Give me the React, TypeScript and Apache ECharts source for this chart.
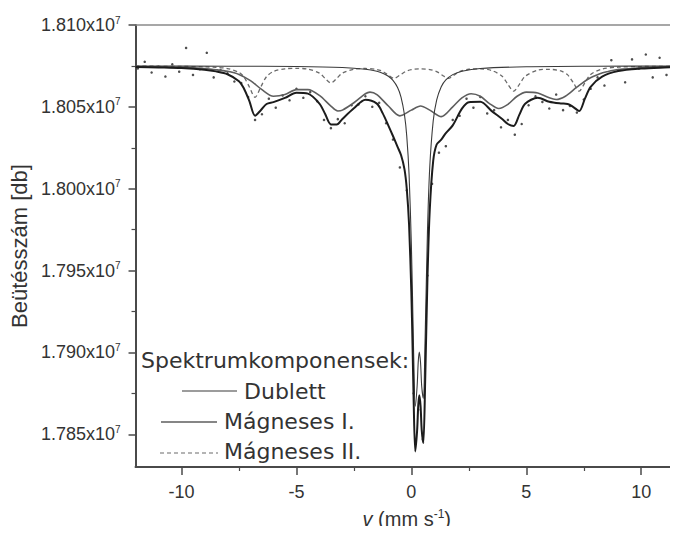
import React, { useEffect, useRef } from "react";
import * as echarts from "echarts";

// Baseline count level and axis ranges
const BASE = 18075000;
const Y_MIN = 17830000;
const Y_MAX = 18100000;
const X_MIN = -12;
const X_MAX = 11.6;

// Tick positions
const X_MAJOR = [-10, -5, 0, 5, 10];
const X_MINOR = [-7.5, -2.5, 2.5, 7.5];
const Y_MAJOR = [17850000, 17900000, 17950000, 18000000, 18050000, 18100000];
const Y_MINOR = [17875000, 17925000, 17975000, 18025000, 18075000];

// Labels
const Y_NAME = "Beütésszám [db]";
const LEGEND_TITLE = "Spektrumkomponensek:";
const LEGEND_NAMES = ["Dublett", "Mágneses I.", "Mágneses II."];

// Measured points (velocity mm/s, absorption depth below baseline in counts)
const DATA_V = [
  -11.9, -11.6, -11.3, -11.0, -10.7, -10.4, -10.1, -9.8, -9.5, -9.2,
  -8.9, -8.6, -8.3, -8.0, -7.7, -7.4, -7.1, -6.8, -6.5, -6.2,
  -5.9, -5.6, -5.3, -5.0, -4.7, -4.4, -4.1, -3.8, -3.5, -3.2,
  -2.9, -2.6, -2.3, -2.0, -1.7, -1.4, -1.1, -0.8, -0.5, -0.2,
  0.1, 0.3, 0.5, 0.7, 0.9, 1.2, 1.5, 1.8, 2.1, 2.4,
  2.7, 3.0, 3.3, 3.6, 3.9, 4.2, 4.5, 4.8, 5.1, 5.4,
  5.7, 6.0, 6.3, 6.6, 6.9, 7.2, 7.5, 7.8, 8.1, 8.4,
  8.7, 9.0, 9.3, 9.6, 9.9, 10.2, 10.5, 10.8, 11.1, 11.4,
];
const DATA_DEPTH = [
  1500, -2500, 4000, 500, 6500, -1000, 3500, -11000, 5500, 2000,
  -8000, 7000, 2500, 4500, 9500, 10500, 19000, 33000, 29500, 20000,
  25500, 18000, 21000, 14000, 19500, 16000, 21500, 33000, 38000, 32500,
  35000, 24000, 23500, 18500, 25000, 22500, 35000, 45000, 62000, 76000,
  200000, 210000, 228000, 128000, 72000, 53000, 49000, 33000, 30500, 20000,
  25500, 19000, 29000, 27000, 37500, 33000, 42000, 35500, 24000, 18500,
  22000, 26000, 17500, 27000, 24500, 28500, 20500, 14000, 7000, 12000,
  -3500, 2500, 10000, -4000, 1500, -7000, 7000, -5000, 5500, 2000,
];

// Fitted envelope (sum of components)
const TOTAL_V = [
  -12, -11, -10, -9, -8.5, -8, -7.5, -7.3, -7.05, -6.8,
  -6.55, -6.3, -6, -5.5, -5, -4.5, -4, -3.75, -3.5, -3.25,
  -3, -2.5, -2, -1.5, -1.25, -1, -0.8, -0.6, -0.45, -0.3,
  -0.2, -0.1, 0, 0.05, 0.1, 0.17, 0.25, 0.3, 0.345, 0.4,
  0.45, 0.52, 0.6, 0.7, 0.8, 0.95, 1.1, 1.3, 1.5, 1.8,
  2.2, 2.5, 3, 3.5, 3.95, 4.2, 4.45, 4.7, 4.95, 5.5,
  6, 6.5, 6.8, 7.05, 7.3, 7.55, 7.8, 8.3, 9, 10,
  11, 11.6,
];
const TOTAL_DEPTH = [
  620, 930, 1330, 2310, 3340, 5070, 9340, 13310, 21360, 30410,
  27030, 23250, 22110, 19550, 16370, 16930, 22970, 29340, 35720, 35840,
  32370, 25890, 20600, 23020, 28840, 36430, 42810, 49460, 54410, 63010,
  75030, 96910, 138590, 169860, 204460, 235510, 222830, 207360, 201220, 207650,
  222300, 230410, 193040, 129890, 88000, 58000, 48000, 45000, 41000, 36320,
  26045, 22120, 21900, 27600, 32460, 35480, 36630, 29750, 23080, 19490,
  21900, 22940, 23210, 25110, 27600, 19980, 12740, 6565, 3160, 1620,
  950, 720,
];

// Component: Dublett
const DUB_V = [
  -12, -8, -5, -3, -2, -1.5, -1.2, -1, -0.8, -0.6,
  -0.45, -0.3, -0.2, -0.1, 0, 0.05, 0.1, 0.17, 0.25, 0.3,
  0.345, 0.4, 0.45, 0.52, 0.6, 0.7, 0.8, 0.95, 1.1, 1.3,
  1.5, 1.8, 2.2, 3, 5, 8, 11.6,
];
const DUB_DEPTH = [
  73, 160, 390, 990, 2030, 3300, 4750, 6310, 8810, 13160,
  19010, 29810, 42930, 66210, 109300, 141130, 176190, 207930, 195850, 180640,
  174760, 181350, 195650, 203190, 165240, 101390, 61890, 33650, 20930, 12730,
  8580, 5320, 3245, 1570, 510, 190, 87,
];

// Component: Mágneses I.
const MAG1_V = [
  -12, -11, -10, -9, -8.5, -8, -7.5, -7, -6.5, -6,
  -5.5, -5, -4.5, -4, -3.5, -3.2, -3, -2.5, -2, -1.8,
  -1.5, -1, -0.5, 0, 0.4, 0.8, 1.3, 1.8, 2.2, 2.6,
  3, 3.4, 3.8, 4.2, 4.6, 5, 5.5, 6, 6.3, 6.7,
  7.2, 7.7, 8.2, 8.5, 9, 10, 11, 11.6,
];
const MAG1_DEPTH = [
  400, 600, 900, 1600, 2300, 3300, 5200, 9000, 14500, 18500,
  17500, 14500, 14500, 18000, 24500, 27500, 27000, 22500, 17000, 16000,
  17500, 24500, 30500, 27000, 24500, 27000, 31000, 25000, 19500, 17000,
  18500, 23000, 26000, 23500, 18500, 16000, 16500, 19500, 20500, 18500,
  13000, 8000, 4800, 3600, 2200, 1100, 600, 450,
];

// Component: Mágneses II.
const MAG2_V = [
  -12, -10, -9, -8.5, -8, -7.5, -7.3, -7.05, -6.8, -6.55,
  -6.3, -6, -5.5, -5, -4.5, -4, -3.75, -3.5, -3.25, -3,
  -2.5, -2, -1.5, -1.25, -1, -0.75, -0.5, -0.25, 0, 0.4,
  0.8, 1.1, 1.35, 1.6, 1.85, 2.1, 2.5, 3, 3.5, 3.95,
  4.2, 4.45, 4.7, 4.95, 5.5, 6, 6.5, 6.8, 7.05, 7.3,
  7.55, 7.8, 8.3, 9, 10, 11.6,
];
const MAG2_DEPTH = [
  150, 300, 560, 880, 1610, 3950, 6410, 12760, 19200, 12810,
  6520, 3370, 1750, 1480, 1960, 4370, 7640, 10440, 7640, 4380,
  1990, 1570, 2220, 3340, 5620, 7580, 5630, 3390, 2290, 1800,
  2200, 3430, 5700, 7660, 5720, 3450, 2020, 1830, 2800, 6310,
  11230, 15450, 11250, 6360, 2590, 2070, 3060, 5460, 10370, 15375,
  10260, 5230, 1870, 780, 370, 180,
];

const AXIS_COLOR = "#4a4a4a";
const TEXT_COLOR = "#333";
const TICK_FONT = "Liberation Sans";
const LEGEND_FONT = '22px "DejaVu Sans"';

function pairs(vs: number[], ds: number[]) {
  return vs.map((v, i) => [v, BASE - ds[i]]);
}

export default function App() {
  const ref = useRef<HTMLDivElement>(null);

  useEffect(() => {
    if (!ref.current) return;
    const chart = echarts.init(ref.current, null, { renderer: "svg" });

    const baseX = { type: "value", min: X_MIN, max: X_MAX, splitLine: { show: false } };
    const baseY = { type: "value", min: Y_MIN, max: Y_MAX, splitLine: { show: false } };

    const option: any = {
      animation: false,
      backgroundColor: "#ffffff",
      grid: { left: 135, right: 0, top: 25, bottom: 63, containLabel: false },
      xAxis: [
        {
          ...baseX,
          position: "bottom",
          axisLine: { show: true, onZero: false, lineStyle: { color: AXIS_COLOR, width: 2 } },
          axisTick: { show: true, customValues: X_MAJOR, length: 8, lineStyle: { color: AXIS_COLOR, width: 1.5 } },
          axisLabel: { customValues: X_MAJOR, margin: 16, fontSize: 18, color: TEXT_COLOR, fontFamily: TICK_FONT },
          name: "{i|v} (mm s{s|-1})",
          nameLocation: "middle",
          nameGap: 41,
          nameTextStyle: {
            fontSize: 20,
            color: TEXT_COLOR,
            fontFamily: TICK_FONT,
            rich: {
              i: { fontStyle: "italic", fontSize: 20, color: TEXT_COLOR, fontFamily: TICK_FONT },
              s: { fontSize: 12, color: TEXT_COLOR, fontFamily: TICK_FONT, padding: [0, 0, 10, 0] },
            },
          },
        },
        {
          ...baseX,
          position: "bottom",
          axisLine: { show: false, onZero: false },
          axisTick: { show: true, customValues: X_MINOR, length: 4, lineStyle: { color: AXIS_COLOR, width: 1.2 } },
          axisLabel: { show: false },
        },
        {
          ...baseX,
          position: "top",
          axisLine: { show: true, onZero: false, lineStyle: { color: "#8a8a8a", width: 1.5 } },
          axisTick: { show: false },
          axisLabel: { show: false },
        },
      ],
      yAxis: [
        {
          ...baseY,
          position: "left",
          axisLine: { show: true, onZero: false, lineStyle: { color: AXIS_COLOR, width: 2 } },
          axisTick: { show: true, customValues: Y_MAJOR, length: 7, lineStyle: { color: AXIS_COLOR, width: 1.5 } },
          axisLabel: {
            customValues: Y_MAJOR,
            margin: 15,
            formatter: (v: number) => `{a|${(v / 1e7).toFixed(3)}x10}{s|7}`,
            rich: {
              a: { fontSize: 18, color: TEXT_COLOR, fontFamily: TICK_FONT },
              s: { fontSize: 10, color: TEXT_COLOR, fontFamily: TICK_FONT, padding: [0, 0, 10, 0] },
            },
          },
          name: Y_NAME,
          nameLocation: "middle",
          nameRotate: 90,
          nameGap: 98,
          nameTextStyle: { fontSize: 22, color: TEXT_COLOR, fontFamily: TICK_FONT },
        },
        {
          ...baseY,
          position: "left",
          axisLine: { show: false, onZero: false },
          axisTick: { show: true, customValues: Y_MINOR, length: 4, lineStyle: { color: AXIS_COLOR, width: 1.2 } },
          axisLabel: { show: false },
        },
      ],
      series: [
        {
          name: "data",
          type: "scatter",
          data: pairs(DATA_V, DATA_DEPTH),
          symbolSize: 2.5,
          itemStyle: { color: "#222" },
          z: 2,
        },
        {
          name: LEGEND_NAMES[2],
          type: "line",
          data: pairs(MAG2_V, MAG2_DEPTH),
          smooth: 0.3,
          showSymbol: false,
          lineStyle: { color: "#6a6a6a", width: 1.3, type: [4, 3] },
          z: 3,
        },
        {
          name: LEGEND_NAMES[1],
          type: "line",
          data: pairs(MAG1_V, MAG1_DEPTH),
          smooth: 0.3,
          showSymbol: false,
          lineStyle: { color: "#5e5e5e", width: 1.6 },
          z: 3,
        },
        {
          name: LEGEND_NAMES[0],
          type: "line",
          data: pairs(DUB_V, DUB_DEPTH),
          smooth: 0.3,
          showSymbol: false,
          lineStyle: { color: "#3a3a3a", width: 1.1 },
          z: 4,
        },
        {
          name: "fit",
          type: "line",
          data: pairs(TOTAL_V, TOTAL_DEPTH),
          smooth: 0.3,
          showSymbol: false,
          lineStyle: { color: "#1c1c1c", width: 2 },
          z: 5,
        },
      ],
      graphic: [
        {
          type: "text",
          left: 141,
          top: 349,
          style: { text: LEGEND_TITLE, font: LEGEND_FONT, fill: TEXT_COLOR },
          z: 10,
        },
        {
          type: "line",
          shape: { x1: 182, y1: 391, x2: 237, y2: 391 },
          style: { stroke: "#3a3a3a", lineWidth: 1.2 },
          z: 10,
        },
        {
          type: "text",
          left: 244,
          top: 380,
          style: { text: LEGEND_NAMES[0], font: LEGEND_FONT, fill: TEXT_COLOR },
          z: 10,
        },
        {
          type: "line",
          shape: { x1: 161, y1: 422, x2: 217, y2: 422 },
          style: { stroke: "#5e5e5e", lineWidth: 1.6 },
          z: 10,
        },
        {
          type: "text",
          left: 224,
          top: 410,
          style: { text: LEGEND_NAMES[1], font: LEGEND_FONT, fill: TEXT_COLOR },
          z: 10,
        },
        {
          type: "line",
          shape: { x1: 160, y1: 453, x2: 218, y2: 453 },
          style: { stroke: "#6a6a6a", lineWidth: 1.2, lineDash: [4, 3] },
          z: 10,
        },
        {
          type: "text",
          left: 224,
          top: 440,
          style: { text: LEGEND_NAMES[2], font: LEGEND_FONT, fill: TEXT_COLOR },
          z: 10,
        },
      ],
    };

    chart.setOption(option);
    return () => chart.dispose();
  }, []);

  return <div ref={ref} style={{ width: 678, height: 534, margin: -8 }} />;
}
